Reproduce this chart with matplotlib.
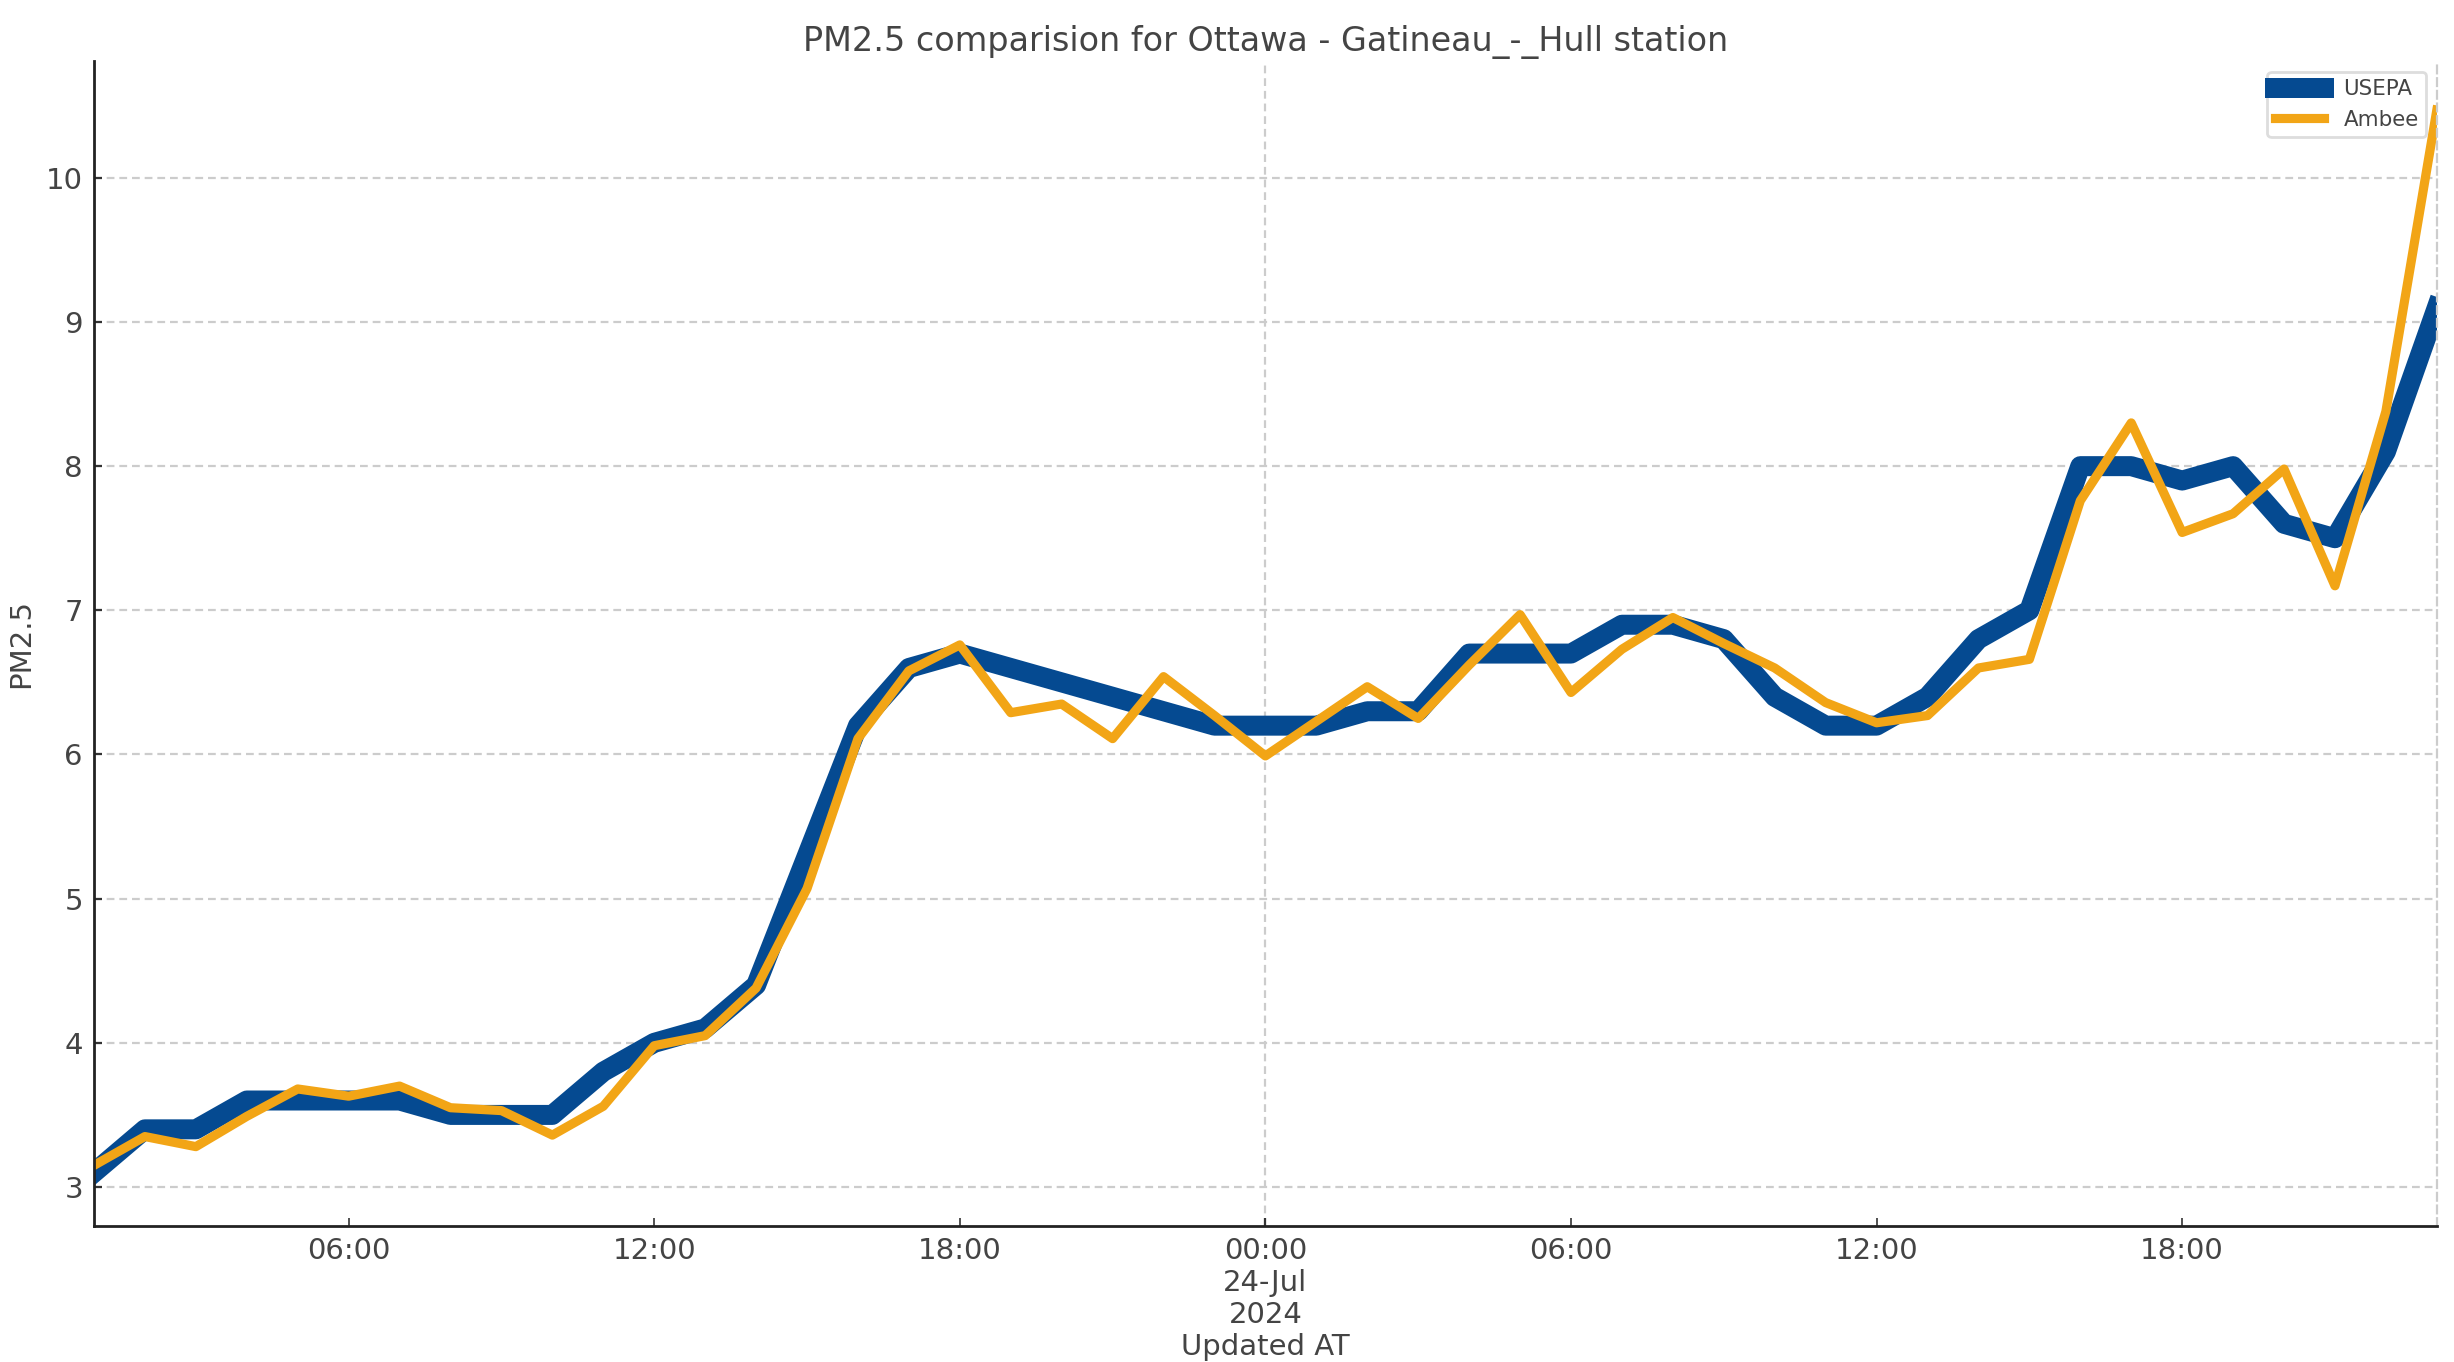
import matplotlib
matplotlib.use("Agg")
from matplotlib import pyplot as plt
import matplotlib.dates as mdates
import pandas as pd

# hourly readings, 23-Jul-2024 01:00 .. 24-Jul-2024 23:00
start = "2024-07-23 01:00"
usepa = [3.1, 3.4, 3.4, 3.6, 3.6, 3.6, 3.6, 3.5, 3.5, 3.5,
         3.8, 4.0, 4.1, 4.4, 5.3, 6.2, 6.6, 6.7, 6.6, 6.5,
         6.4, 6.3, 6.2, 6.2, 6.2, 6.3, 6.3, 6.7, 6.7, 6.7,
         6.9, 6.9, 6.8, 6.4, 6.2, 6.2, 6.4, 6.8, 7.0, 8.0,
         8.0, 7.9, 8.0, 7.6, 7.5, 8.1, 9.1]
ambee = [3.15, 3.35, 3.28, 3.49, 3.68, 3.63, 3.70, 3.55, 3.53, 3.36,
         3.56, 3.98, 4.05, 4.38, 5.07, 6.11, 6.58, 6.76, 6.29, 6.35,
         6.11, 6.54, 6.27, 5.99, 6.23, 6.47, 6.25, 6.62, 6.97, 6.43,
         6.73, 6.95, 6.77, 6.60, 6.36, 6.22, 6.27, 6.60, 6.66, 7.76,
         8.30, 7.54, 7.67, 7.98, 7.17, 8.38, 10.47]
times = pd.date_range(start, periods=len(usepa), freq="h")

txt = "#444444"
plt.rcParams["font.family"] = ["DejaVu Sans"]

fig = plt.figure(figsize=(12.27, 6.81), dpi=200)
ax = fig.add_axes([0.0383, 0.0999, 0.9547, 0.8553])

ax.plot(times, usepa, color="#054a91", lw=7.2, label="USEPA")
ax.plot(times, ambee, color="#f2a516", lw=3.3, label="Ambee")

ax.set_xlim(times[0], times[-1])
ax.set_ylim(2.73, 10.81)

ax.xaxis.set_major_locator(mdates.DayLocator())
ax.xaxis.set_major_formatter(mdates.DateFormatter("%H:%M\n%d-%b\n%Y"))
ax.xaxis.set_minor_locator(mdates.HourLocator(byhour=[6, 12, 18]))
ax.xaxis.set_minor_formatter(mdates.DateFormatter("%H:%M"))

dash = (0, (3.5, 2.2))
ax.grid(axis="y", color="#cccccc", lw=0.8, linestyle=dash)
ax.grid(axis="x", which="major", color="#cccccc", lw=0.8, linestyle=dash)

ax.tick_params(axis="both", which="both", direction="in", length=3,
               labelsize=10.5, labelcolor=txt, color="#333333", pad=4)
for lab in ax.get_xticklabels(which="major"):
    lab.set_linespacing(1.18)

ax.spines["top"].set_visible(False)
ax.spines["right"].set_color("#cccccc")
ax.spines["right"].set_linestyle(dash)
ax.spines["right"].set_linewidth(0.8)
for s in ["left", "bottom"]:
    ax.spines[s].set_color("#222222")
    ax.spines[s].set_linewidth(1.0)

ax.set_title("PM2.5 comparision for Ottawa - Gatineau_-_Hull station",
             fontsize=12, color=txt, pad=3.5)
ax.set_xlabel("Updated AT", fontsize=10.5, color=txt, labelpad=1.5)
ax.set_ylabel("PM2.5", fontsize=10.5, color=txt, labelpad=4)

ax.legend(loc="upper right", fontsize=7.7, handlelength=2.3,
          handletextpad=0.9, borderpad=0.35,
          labelcolor=txt, framealpha=1, edgecolor="#dddddd", fancybox=True)

fig.savefig("out.png", dpi=200)
